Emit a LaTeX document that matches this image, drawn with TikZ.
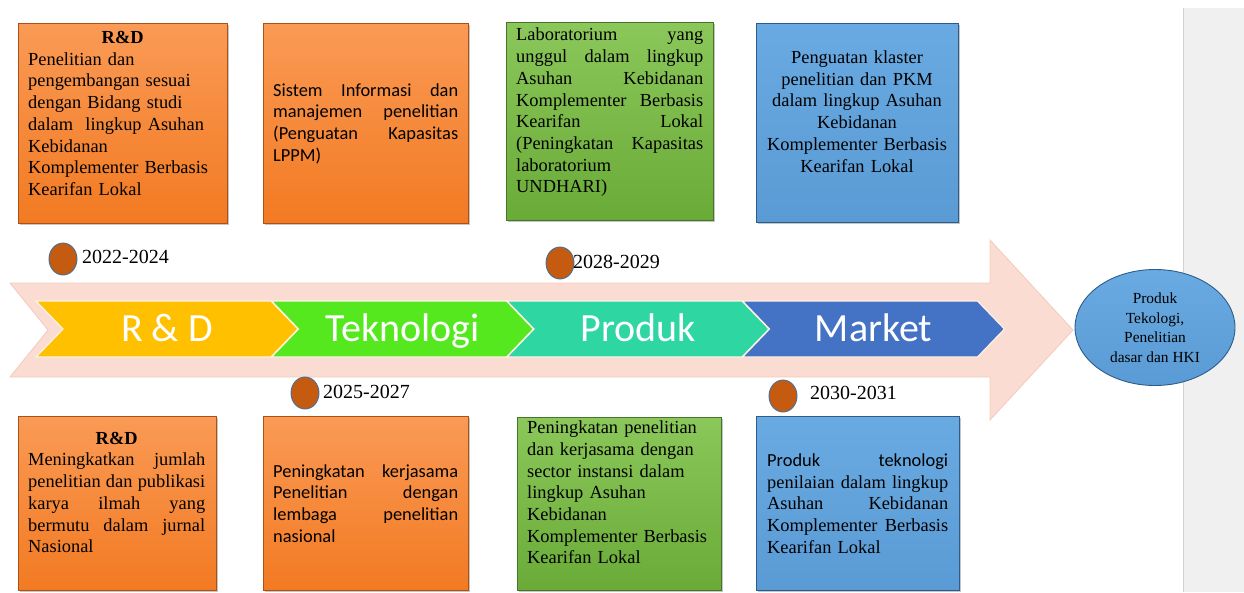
\documentclass[tikz,border=0pt]{standalone}
\usepackage{fontspec}
\setmainfont{Liberation Serif}
\newfontfamily\calibri{Carlito}
\usetikzlibrary{shapes.geometric,shadows}

\definecolor{orangetop}{HTML}{FA9A55}
\definecolor{orangebot}{HTML}{F27A22}
\definecolor{orangeline}{HTML}{A8521A}
\definecolor{greentop}{HTML}{8BC75A}
\definecolor{greenbot}{HTML}{6AAB38}
\definecolor{greenline}{HTML}{46752A}
\definecolor{bluetop}{HTML}{6AAAE2}
\definecolor{bluebot}{HTML}{5B9BD5}
\definecolor{blueline}{HTML}{2E5C8A}
\definecolor{pinkfill}{HTML}{FADCD2}
\definecolor{pinkline}{HTML}{F3CBBD}
\definecolor{chevyel}{HTML}{FFC000}
\definecolor{chevgrn}{HTML}{55E81E}
\definecolor{chevteal}{HTML}{2ED6A2}
\definecolor{chevblue}{HTML}{4472C4}
\definecolor{dotfill}{HTML}{C55A11}
\definecolor{dotline}{HTML}{41719C}
\definecolor{panelgray}{HTML}{F0F0F0}
\definecolor{panelline}{HTML}{D2D2D2}

\newcommand{\jl}[1]{\makebox[\linewidth][s]{\spaceskip=.25em plus 1fil\relax #1}}

\begin{document}
\begin{tikzpicture}[x=1pt,y=-1pt,
    box/.style={rectangle,draw,line width=0.8pt,inner sep=0pt,
      drop shadow={shadow xshift=1.5pt,shadow yshift=-1.5pt,opacity=0.45}},
    obox/.style={box,top color=orangetop,bottom color=orangebot,draw=orangeline},
    gbox/.style={box,top color=greentop,bottom color=greenbot,draw=greenline},
    bbox/.style={box,top color=bluetop,bottom color=bluebot,draw=blueline},
    boxtext/.style={inner sep=0pt,align=left,font=\fontsize{18.4}{21.7}\selectfont},
    chevron/.style={draw=white!90!orange,line width=1.2pt},
    chevlabel/.style={anchor=base,text=white,font=\calibri\fontsize{40}{44}\selectfont,inner sep=0pt},
    dot/.style={ellipse,fill=dotfill,draw=dotline,line width=0.9pt,
      minimum width=28pt,minimum height=32pt,inner sep=0pt},
    year/.style={anchor=west,inner sep=0pt,font=\fontsize{20}{24}\selectfont}]

\useasboundingbox (0,0) rectangle (1244,592);

\fill[panelgray] (1183,8) rectangle (1244,592);
\draw[panelline,line width=1pt] (1183,8) -- (1183,592);

\draw[fill=pinkfill,draw=pinkline,line width=0.8pt] (10,283) -- (990,283) -- (990,240) -- (1073,330)
  -- (990,420) -- (990,377) -- (10,377) -- (48,330) -- cycle;

\foreach \i/\col/\lab in {0/chevyel/R \& D,1/chevgrn/Teknologi,2/chevteal/Produk,3/chevblue/Market}{
  \pgfmathsetmacro\cx{36+235.5*\i}
  \draw[chevron,fill=\col] (\cx,301) -- ++(235,0) -- ++(27,28) -- ++(-27,28) -- ++(-235,0) -- ++(27,-28) -- cycle;
  \node[chevlabel] (chev\i) at (\cx+131,341) {\lab};
}

\node[obox,minimum width=209pt,minimum height=200pt] (rdtop) at (122.5,123) {};
\node[boxtext,anchor=west,text width=189pt] (rdtoptxt) at (28,113.5)
  {\makebox[\linewidth]{\bfseries R\&D}\\
   Penelitian dan\\
   pengembangan sesuai\\
   dengan Bidang studi\\
   dalam \ lingkup Asuhan\\
   Kebidanan\\
   Komplementer Berbasis\\
   Kearifan Lokal};

\node[obox,minimum width=205pt,minimum height=200pt] (sim) at (365.5,123) {};
\node[boxtext,anchor=west,text width=185pt,font=\calibri\fontsize{18.4}{21.7}\selectfont] (simtxt) at (273,123.5)
  {\jl{Sistem Informasi dan}\\
   \jl{manajemen penelitian}\\
   \jl{(Penguatan Kapasitas}\\
   LPPM)};

\node[gbox,minimum width=207pt,minimum height=198pt] (lab) at (609.5,121) {};
\node[boxtext,anchor=west,text width=187pt] (labtxt) at (516,112.5)
  {\jl{Laboratorium yang}\\
   \jl{unggul dalam lingkup}\\
   \jl{Asuhan Kebidanan}\\
   \jl{Komplementer Berbasis}\\
   \jl{Kearifan Lokal}\\
   \jl{(Peningkatan Kapasitas}\\
   laboratorium\\
   UNDHARI)};

\node[bbox,minimum width=202pt,minimum height=199pt] (klaster) at (857,122.5) {};
\node[boxtext,align=center,text width=200pt] (klastertxt) at (857,111.5)
  {Penguatan klaster\\
   penelitian dan PKM\\
   dalam lingkup Asuhan\\
   Kebidanan\\
   Komplementer Berbasis\\
   Kearifan Lokal};

\node[obox,minimum width=198pt,minimum height=174pt] (rdbot) at (117,503) {};
\node[boxtext,anchor=west,text width=177pt] (rdbottxt) at (28,492.5)
  {\makebox[\linewidth]{\bfseries R\&D}\\
   \jl{Meningkatkan jumlah}\\
   \jl{penelitian dan publikasi}\\
   \jl{karya ilmah yang}\\
   \jl{bermutu dalam jurnal}\\
   Nasional};

\node[obox,minimum width=205pt,minimum height=174pt] (kerja) at (365.5,503) {};
\node[boxtext,anchor=west,text width=185pt,font=\calibri\fontsize{18.4}{21.7}\selectfont] (kerjatxt) at (273,503.5)
  {\jl{Peningkatan kerjasama}\\
   \jl{Penelitian dengan}\\
   \jl{lembaga penelitian}\\
   nasional};

\node[gbox,minimum width=204pt,minimum height=173pt] (sektor) at (619,503.5) {};
\node[boxtext,anchor=west,text width=185pt] (sektortxt) at (527,492.5)
  {Peningkatan penelitian\\
   dan kerjasama dengan\\
   sector instansi dalam\\
   lingkup Asuhan\\
   Kebidanan\\
   Komplementer Berbasis\\
   Kearifan Lokal};

\node[bbox,minimum width=203pt,minimum height=174pt] (produk) at (857.5,503) {};
\node[boxtext,anchor=west,text width=181pt] (produktxt) at (767,503.5)
  {\jl{\calibri Produk teknologi}\\
   \jl{penilaian dalam lingkup}\\
   \jl{Asuhan Kebidanan}\\
   \jl{Komplementer Berbasis}\\
   Kearifan Lokal};

\node[dot] (dot1) at (63,259) {};
\node[year] (yr1) at (82,257) {2022-2024};
\node[dot] (dot2) at (305,393) {};
\node[year] (yr2) at (323,392) {2025-2027};
\node[dot] (dot3) at (560,263) {};
\node[year] (yr3) at (573,262) {2028-2029};
\node[dot] (dot4) at (783,396) {};
\node[year] (yr4) at (810,393) {2030-2031};

\node[ellipse,top color=bluetop,bottom color=bluebot,draw=blueline,line width=0.9pt,
  minimum width=160pt,minimum height=116pt,inner sep=0pt,align=center,
  font=\fontsize{15.4}{19.5}\selectfont] (hki) at (1155,327.5)
  {Produk\\ Tekologi,\\ Penelitian\\ dasar dan HKI};
\end{tikzpicture}
\end{document}
